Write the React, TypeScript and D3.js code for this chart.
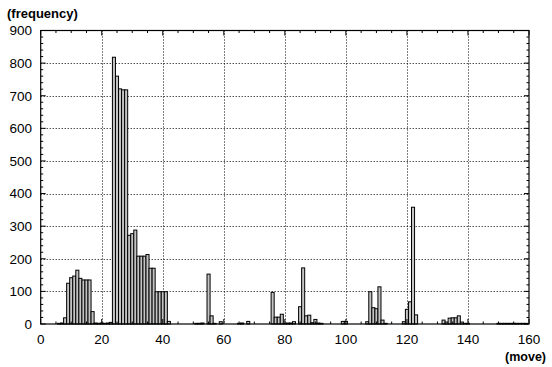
import React from "react";
import * as d3 from "d3";

const moves = [
  6, 7, 8, 9, 10, 11, 12, 13, 14, 15, 16, 17, 18,
  19, 20, 21, 22, 23,
  24, 25, 26, 27, 28, 29, 30, 31, 32, 33, 34, 35, 36, 37, 38, 39, 40, 41, 42,
  51, 52, 53, 55, 56, 57, 59,
  65, 66, 68,
  76, 77, 78, 79, 80, 81, 82, 83, 85, 86, 87, 88, 89, 90, 91, 92,
  99, 100,
  107, 108, 109, 110, 111, 112, 113,
  119, 120, 121, 122, 123,
  132, 133, 134, 135, 136, 137, 138, 139, 140,
  150, 151, 152, 153, 154, 155, 156, 157, 158, 159,
];
const frequency = [
  2, 3, 19, 125, 142, 147, 165, 140, 135, 135, 135, 38, 3,
  2, 3, 2, 3, 5,
  818, 760, 721, 718, 718, 272, 277, 288, 208, 208, 208, 213, 171, 171, 99, 99, 99, 99, 8,
  2, 2, 3, 153, 25, 2, 7,
  2, 3, 8,
  97, 21, 21, 30, 2, 3, 3, 7, 53, 172, 25, 27, 4, 14, 3, 2,
  8, 8,
  7, 99, 50, 47, 114, 12, 2,
  7, 45, 68, 358, 28,
  12, 6, 18, 19, 19, 25, 6, 2, 2,
  2, 2, 2, 2, 2, 2, 2, 2, 2, 2,
];
const xTicks = [0, 20, 40, 60, 80, 100, 120, 140, 160];
const yTicks = [0, 100, 200, 300, 400, 500, 600, 700, 800, 900];
const yLabel = "(frequency)";
const xLabel = "(move)";

const W = 552;
const H = 367;
const L = 40.7, R = 529, T = 30.5, B = 324;

export default function App() {
  const x = d3.scaleLinear().domain([0, 160]).range([L, R]);
  const y = d3.scaleLinear().domain([0, 900]).range([B, T]);
  const xMinor = d3.range(0, 161, 5).filter((v) => v % 20 !== 0);
  const yMinor = d3.range(0, 901, 20).filter((v) => v % 100 !== 0);
  const font = "'Liberation Sans', Arial, Helvetica, sans-serif";
  const data = moves.map((m, i) => ({ m, v: frequency[i] }));

  return (
    <svg
      width={W}
      height={H}
      style={{ position: "absolute", left: 0, top: 0, background: "#fff" }}
    >
      {/* grid */}
      <g stroke="#000" strokeWidth={1} strokeDasharray="1,2">
        {yTicks.slice(1, -1).map((t) => (
          <line key={"gy" + t} x1={L} x2={R} y1={Math.round(y(t)) + 0.5} y2={Math.round(y(t)) + 0.5} />
        ))}
        {xTicks.slice(1, -1).map((t) => (
          <line key={"gx" + t} y1={T} y2={B} x1={Math.round(x(t)) + 0.5} x2={Math.round(x(t)) + 0.5} />
        ))}
      </g>
      {/* bars */}
      <g fill="#c4c4c4" stroke="#000" strokeWidth={1}>
        {data.map((d) => (
          <rect
            key={d.m}
            x={x(d.m - 0.5)}
            width={x(d.m + 0.5) - x(d.m - 0.5)}
            y={y(d.v)}
            height={Math.max(0, y(0) - y(d.v))}
          />
        ))}
      </g>
      {/* ticks */}
      <g stroke="#000" strokeWidth={1}>
        {yTicks.map((t) => (
          <g key={"ty" + t}>
            <line x1={L} x2={L + 5} y1={y(t)} y2={y(t)} />
            <line x1={R} x2={R - 5} y1={y(t)} y2={y(t)} />
          </g>
        ))}
        {yMinor.map((t) => (
          <g key={"tym" + t}>
            <line x1={L} x2={L + 2.5} y1={y(t)} y2={y(t)} />
            <line x1={R} x2={R - 2.5} y1={y(t)} y2={y(t)} />
          </g>
        ))}
        {xTicks.map((t) => (
          <g key={"tx" + t}>
            <line y1={B} y2={B - 5} x1={x(t)} x2={x(t)} />
            <line y1={T} y2={T + 5} x1={x(t)} x2={x(t)} />
          </g>
        ))}
        {xMinor.map((t) => (
          <g key={"txm" + t}>
            <line y1={B} y2={B - 2.5} x1={x(t)} x2={x(t)} />
            <line y1={T} y2={T + 2.5} x1={x(t)} x2={x(t)} />
          </g>
        ))}
      </g>
      {/* frame */}
      <rect x={L} y={T} width={R - L} height={B - T} fill="none" stroke="#000" strokeWidth={1.2} />
      {/* labels */}
      <g fontFamily={font} fontSize={13.5} fill="#000">
        {yTicks.map((t) => (
          <text key={"ly" + t} x={32} y={y(t)} dy="0.36em" textAnchor="end">
            {t}
          </text>
        ))}
        {xTicks.map((t) => (
          <text key={"lx" + t} x={x(t)} y={344} textAnchor="middle">
            {t}
          </text>
        ))}
      </g>
      <text x={7} y={18} fontFamily={font} fontSize={13} fontWeight="bold">
        {yLabel}
      </text>
      <text x={546} y={361} fontFamily={font} fontSize={12.5} fontWeight="bold" textAnchor="end">
        {xLabel}
      </text>
    </svg>
  );
}
